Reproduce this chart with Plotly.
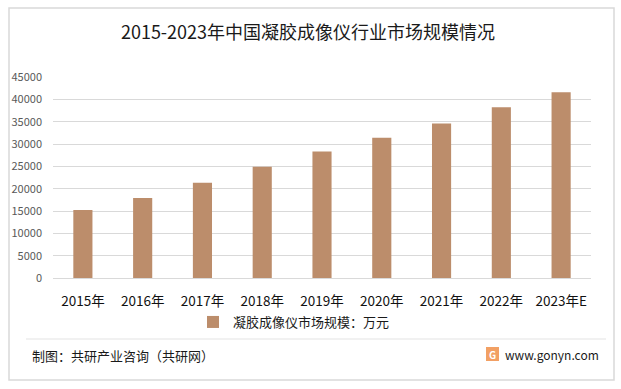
import plotly.graph_objects as go

categories = ["2015年", "2016年", "2017年", "2018年", "2019年", "2020年", "2021年", "2022年", "2023年E"]
market_size = [15200, 17900, 21300, 24900, 28300, 31400, 34600, 38200, 41600]
series_name = "凝胶成像仪市场规模：万元"
title_text = "2015-2023年中国凝胶成像仪行业市场规模情况"
source_text = "制图：共研产业咨询（共研网）"
site_text = "www.gonyn.com"
y_ticks = [0, 5000, 10000, 15000, 20000, 25000, 30000, 35000, 40000, 45000]

W, H = 621, 389
L, R, T, B = 53, 30, 77, 111
PW, PH = W - L - R, H - T - B

def px(x):
    return (x - L) / PW

def py(y):
    return (H - B - y) / PH

FONT = "Noto Sans CJK SC"
BAR = "#BC8D6B"

fig = go.Figure()
fig.add_trace(go.Bar(
    x=categories, y=market_size, name=series_name,
    marker=dict(color=BAR, line=dict(width=0)),
))

fig.update_layout(
    width=W, height=H,
    margin=dict(l=L, r=R, t=T, b=B, autoexpand=False),
    paper_bgcolor="white", plot_bgcolor="white",
    bargap=0.68,
    font=dict(family=FONT, color="#000000"),
    title=dict(text=title_text, x=308 / W, xanchor="center", xref="container",
               y=1 - 33 / H, yanchor="middle", yref="container",
               font=dict(size=18, color="#1a1a1a", family=FONT)),
    showlegend=True,
    legend=dict(orientation="h", x=294 / W, xanchor="center", xref="container",
                y=1 - 322 / H, yanchor="middle", yref="container",
                font=dict(size=13, color="#1a1a1a", family=FONT),
                bgcolor="rgba(0,0,0,0)", itemwidth=30),
    xaxis=dict(showgrid=False, showline=True, linecolor="#d9d9d9", linewidth=1,
               ticks="", tickfont=dict(size=13.5, color="#111111", family=FONT),
               ticklabelstandoff=11, fixedrange=True),
    yaxis=dict(range=[0, 45000], tickvals=y_ticks, tickformat="d", showgrid=True,
               gridcolor="#d9d9d9", gridwidth=1, zeroline=False, showline=False, ticks="",
               tickfont=dict(size=11, color="#595959", family=FONT),
               ticklabelstandoff=10, fixedrange=True),
)

shapes = [
    # outer border
    dict(type="rect", xref="paper", yref="paper", x0=px(9), x1=px(614), y0=py(8), y1=py(380),
         line=dict(color="#d9d9d9", width=1.5), fillcolor="rgba(0,0,0,0)", layer="below"),
    # footer separator
    dict(type="line", xref="paper", yref="paper", x0=px(26), x1=px(606), y0=py(339), y1=py(339),
         line=dict(color="#e3e3e3", width=1)),
    # logo block
    dict(type="rect", xref="paper", yref="paper", x0=px(486), x1=px(499), y0=py(347), y1=py(361),
         line=dict(width=0), fillcolor="#F2A064"),
]
fig.update_layout(shapes=shapes)

annotations = [
    dict(text=source_text, xref="paper", yref="paper", x=px(30), y=py(355),
         xanchor="left", yanchor="middle", showarrow=False,
         font=dict(size=13, color="#1a1a1a", family=FONT)),
    dict(text=site_text, xref="paper", yref="paper", x=px(601), y=py(354),
         xanchor="right", yanchor="middle", showarrow=False,
         font=dict(size=12, color="#1a1a1a", family=FONT)),
    dict(text="<b>G</b>", xref="paper", yref="paper", x=px(492.5), y=py(354),
         xanchor="center", yanchor="middle", showarrow=False,
         font=dict(size=10, color="white", family=FONT)),
]
fig.update_layout(annotations=annotations)

fig.write_html("out.html", config={"displayModeBar": False},
               post_script="document.body.style.margin='0px';")
